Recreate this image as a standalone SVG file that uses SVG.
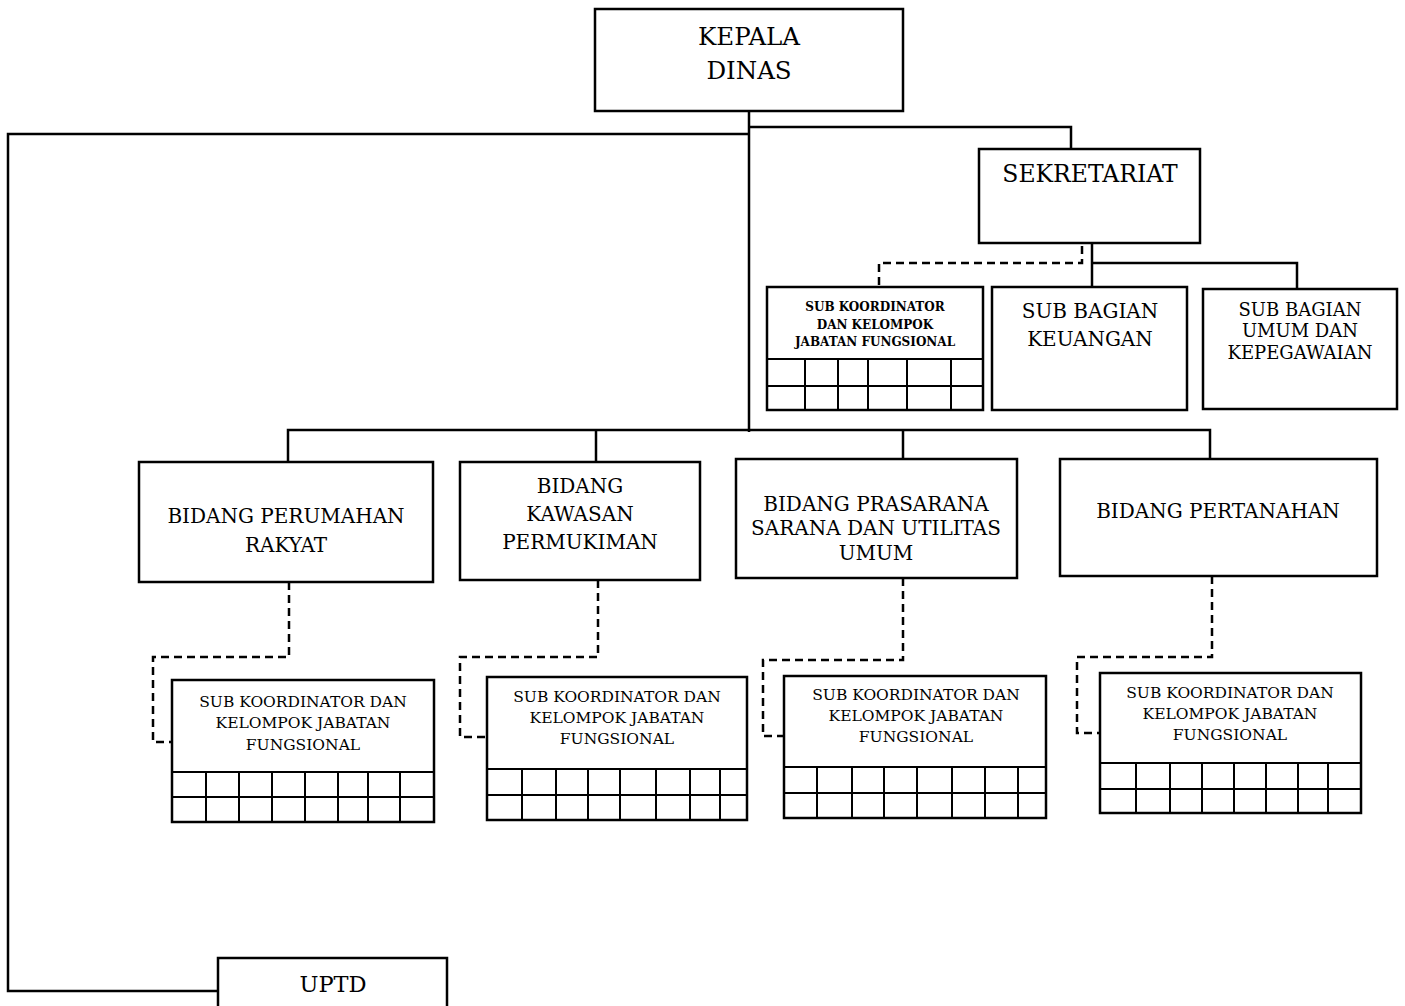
<svg xmlns="http://www.w3.org/2000/svg" width="1405" height="1006" viewBox="0 0 1405 1006">
<style>
.box{fill:#fff;stroke:#000;stroke-width:2.5}
.ln{fill:none;stroke:#000;stroke-width:2.5}
.dl{fill:none;stroke:#000;stroke-width:2.5;stroke-dasharray:8,5}
.g{stroke:#000;stroke-width:2}
text{font-family:"DejaVu Serif","Liberation Serif",serif;fill:#000;text-anchor:middle}
.t24{font-size:24.5px}
.t20{font-size:20px}
.t23{font-size:23.5px}
.t18{font-size:18px}
.t15{font-size:15.5px}
.t13{font-size:12px;font-weight:bold}
.t22{font-size:22.5px}
</style>
<rect width="1405" height="1006" fill="#fff"/>
<g id="connectors">
<polyline class="ln" points="749,111 749,432"/>
<polyline class="ln" points="749,134 8,134 8,991 218,991"/>
<polyline class="ln" points="749,127 1071,127 1071,149"/>
<polyline class="ln" points="1092,243 1092,287"/>
<polyline class="ln" points="1092,263 1297,263 1297,289"/>
<polyline class="dl" points="1082,246 1082,263 879,263 879,287"/>
<polyline class="ln" points="288,462 288,430 1210,430 1210,459"/>
<polyline class="ln" points="596,430 596,462"/>
<polyline class="ln" points="903,430 903,459"/>
<polyline class="dl" points="289,582 289,657 153,657 153,742 172,742"/>
<polyline class="dl" points="598,580 598,657 460,657 460,737 487,737"/>
<polyline class="dl" points="903,578 903,660 763,660 763,736 784,736"/>
<polyline class="dl" points="1212,576 1212,657 1077,657 1077,733 1100,733"/>
</g>
<g id="kepala-dinas">
<rect class="box" x="595" y="9" width="308" height="102"/>
<text class="t24" x="749" y="45">KEPALA</text>
<text class="t24" x="749" y="79">DINAS</text>
</g>
<g id="sekretariat">
<rect class="box" x="979" y="149" width="221" height="94"/>
<text class="t23" x="1090" y="182">SEKRETARIAT</text>
</g>
<g id="sub-koordinator-sekretariat">
<rect class="box" x="767" y="287" width="216" height="123"/>
<line class="g" x1="767" y1="359" x2="983" y2="359"/>
<line class="g" x1="767" y1="386" x2="983" y2="386"/>
<line class="g" x1="805" y1="359" x2="805" y2="410"/>
<line class="g" x1="838" y1="359" x2="838" y2="410"/>
<line class="g" x1="868" y1="359" x2="868" y2="410"/>
<line class="g" x1="907" y1="359" x2="907" y2="410"/>
<line class="g" x1="951" y1="359" x2="951" y2="410"/>
<text class="t13" x="875" y="311">SUB KOORDINATOR</text>
<text class="t13" x="875" y="329">DAN KELOMPOK</text>
<text class="t13" x="875" y="346">JABATAN FUNGSIONAL</text>
</g>
<g id="sub-bagian-keuangan">
<rect class="box" x="992" y="287" width="195" height="123"/>
<text class="t20" x="1090" y="318">SUB BAGIAN</text>
<text class="t20" x="1090" y="346">KEUANGAN</text>
</g>
<g id="sub-bagian-umum">
<rect class="box" x="1203" y="289" width="194" height="120"/>
<text class="t18" x="1300" y="316">SUB BAGIAN</text>
<text class="t18" x="1300" y="337">UMUM DAN</text>
<text class="t18" x="1300" y="359">KEPEGAWAIAN</text>
</g>
<g id="bidang-perumahan">
<rect class="box" x="139" y="462" width="294" height="120"/>
<text class="t20" x="286" y="523">BIDANG PERUMAHAN</text>
<text class="t20" x="286" y="552">RAKYAT</text>
</g>
<g id="bidang-kawasan">
<rect class="box" x="460" y="462" width="240" height="118"/>
<text class="t20" x="580" y="493">BIDANG</text>
<text class="t20" x="580" y="521">KAWASAN</text>
<text class="t20" x="580" y="549">PERMUKIMAN</text>
</g>
<g id="bidang-prasarana">
<rect class="box" x="736" y="459" width="281" height="119"/>
<text class="t20" x="876" y="511">BIDANG PRASARANA</text>
<text class="t20" x="876" y="535">SARANA DAN UTILITAS</text>
<text class="t20" x="876" y="560">UMUM</text>
</g>
<g id="bidang-pertanahan">
<rect class="box" x="1060" y="459" width="317" height="117"/>
<text class="t20" x="1218" y="518">BIDANG PERTANAHAN</text>
</g>
<g id="sub-koordinator-1">
<rect class="box" x="172" y="680" width="262" height="142"/>
<line class="g" x1="172" y1="772" x2="434" y2="772"/>
<line class="g" x1="172" y1="797" x2="434" y2="797"/>
<line class="g" x1="206" y1="772" x2="206" y2="822"/>
<line class="g" x1="239" y1="772" x2="239" y2="822"/>
<line class="g" x1="272" y1="772" x2="272" y2="822"/>
<line class="g" x1="305" y1="772" x2="305" y2="822"/>
<line class="g" x1="338" y1="772" x2="338" y2="822"/>
<line class="g" x1="368" y1="772" x2="368" y2="822"/>
<line class="g" x1="400" y1="772" x2="400" y2="822"/>
<text class="t15" x="303" y="707">SUB KOORDINATOR DAN</text>
<text class="t15" x="303" y="728">KELOMPOK JABATAN</text>
<text class="t15" x="303" y="750">FUNGSIONAL</text>
</g>
<g id="sub-koordinator-2">
<rect class="box" x="487" y="677" width="260" height="143"/>
<line class="g" x1="487" y1="769" x2="747" y2="769"/>
<line class="g" x1="487" y1="795" x2="747" y2="795"/>
<line class="g" x1="522" y1="769" x2="522" y2="820"/>
<line class="g" x1="556" y1="769" x2="556" y2="820"/>
<line class="g" x1="588" y1="769" x2="588" y2="820"/>
<line class="g" x1="620" y1="769" x2="620" y2="820"/>
<line class="g" x1="656" y1="769" x2="656" y2="820"/>
<line class="g" x1="690" y1="769" x2="690" y2="820"/>
<line class="g" x1="720" y1="769" x2="720" y2="820"/>
<text class="t15" x="617" y="702">SUB KOORDINATOR DAN</text>
<text class="t15" x="617" y="723">KELOMPOK JABATAN</text>
<text class="t15" x="617" y="744">FUNGSIONAL</text>
</g>
<g id="sub-koordinator-3">
<rect class="box" x="784" y="676" width="262" height="142"/>
<line class="g" x1="784" y1="767" x2="1046" y2="767"/>
<line class="g" x1="784" y1="793" x2="1046" y2="793"/>
<line class="g" x1="817" y1="767" x2="817" y2="818"/>
<line class="g" x1="852" y1="767" x2="852" y2="818"/>
<line class="g" x1="884" y1="767" x2="884" y2="818"/>
<line class="g" x1="917" y1="767" x2="917" y2="818"/>
<line class="g" x1="952" y1="767" x2="952" y2="818"/>
<line class="g" x1="985" y1="767" x2="985" y2="818"/>
<line class="g" x1="1018" y1="767" x2="1018" y2="818"/>
<text class="t15" x="916" y="700">SUB KOORDINATOR DAN</text>
<text class="t15" x="916" y="721">KELOMPOK JABATAN</text>
<text class="t15" x="916" y="742">FUNGSIONAL</text>
</g>
<g id="sub-koordinator-4">
<rect class="box" x="1100" y="673" width="261" height="140"/>
<line class="g" x1="1100" y1="763" x2="1361" y2="763"/>
<line class="g" x1="1100" y1="789" x2="1361" y2="789"/>
<line class="g" x1="1136" y1="763" x2="1136" y2="813"/>
<line class="g" x1="1170" y1="763" x2="1170" y2="813"/>
<line class="g" x1="1202" y1="763" x2="1202" y2="813"/>
<line class="g" x1="1234" y1="763" x2="1234" y2="813"/>
<line class="g" x1="1266" y1="763" x2="1266" y2="813"/>
<line class="g" x1="1298" y1="763" x2="1298" y2="813"/>
<line class="g" x1="1328" y1="763" x2="1328" y2="813"/>
<text class="t15" x="1230" y="698">SUB KOORDINATOR DAN</text>
<text class="t15" x="1230" y="719">KELOMPOK JABATAN</text>
<text class="t15" x="1230" y="740">FUNGSIONAL</text>
</g>
<g id="uptd">
<rect class="box" x="218" y="958" width="229" height="60"/>
<text class="t22" x="333" y="992">UPTD</text>
</g>
</svg>
